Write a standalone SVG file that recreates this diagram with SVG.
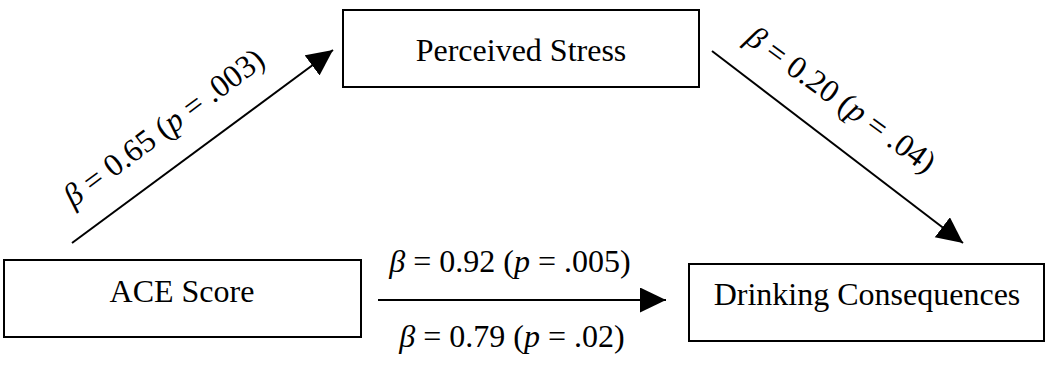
<svg xmlns="http://www.w3.org/2000/svg" width="1045" height="371" viewBox="0 0 1045 371">
<style>
.box{fill:#fff;stroke:#000;stroke-width:2}
.lbl{font-family:"Liberation Serif","Times New Roman",serif;font-size:32px;fill:#000;text-anchor:middle}
.conn{stroke:#000;stroke-width:2;fill:none}
.i{font-style:italic}
</style>
<defs>
<marker id="ah" markerUnits="userSpaceOnUse" markerWidth="27" markerHeight="26" refX="26" refY="12.5" orient="auto">
<path d="M0,0 L26,12.5 L0,25 Z" fill="#000"/>
</marker>
</defs>
<g id="connectors">
<line class="conn" x1="72" y1="243" x2="333" y2="50" marker-end="url(#ah)"/>
<line class="conn" x1="712" y1="51" x2="963" y2="243" marker-end="url(#ah)"/>
<line class="conn" x1="378" y1="300" x2="666" y2="300" marker-end="url(#ah)"/>
<text class="lbl" transform="translate(170,136) rotate(-36.7)"><tspan class="i">β</tspan> = 0.65 (<tspan class="i">p</tspan> = .003)</text>
<text class="lbl" transform="translate(835,108) rotate(36)"><tspan class="i">β</tspan> = 0.20 (<tspan class="i">p</tspan> = .04)</text>
<text class="lbl" x="510" y="272"><tspan class="i">β</tspan> = 0.92 (<tspan class="i">p</tspan> = .005)</text>
<text class="lbl" x="512" y="347"><tspan class="i">β</tspan> = 0.79 (<tspan class="i">p</tspan> = .02)</text>
</g>
<g id="perceived-stress">
<rect class="box" x="343" y="10" width="356" height="77"/>
<text class="lbl" x="521" y="61">Perceived Stress</text>
</g>
<g id="ace-score">
<rect class="box" x="4" y="260" width="357" height="77"/>
<text class="lbl" x="182" y="302">ACE Score</text>
</g>
<g id="drinking-consequences">
<rect class="box" x="689" y="264" width="355" height="77"/>
<text class="lbl" x="867" y="305">Drinking Consequences</text>
</g>
</svg>
